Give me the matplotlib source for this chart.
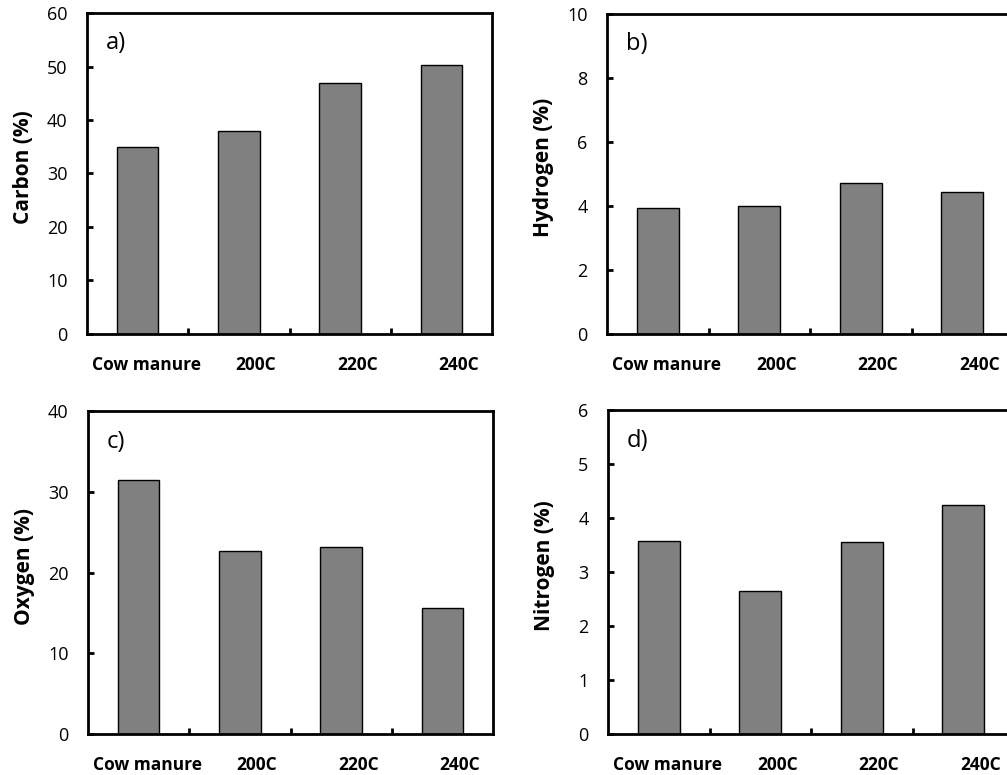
import matplotlib
matplotlib.use("Agg")
import matplotlib.pyplot as plt
import numpy as np

plt.rcParams['font.family'] = ['Open Sans', 'DejaVu Sans']

samples = ["Cow manure", "200C", "220C", "240C"]
carbon = [35.0, 38.0, 47.0, 50.3]
hydrogen = [3.95, 4.0, 4.72, 4.43]
oxygen = [31.4, 22.7, 23.2, 15.6]
nitrogen = [3.58, 2.64, 3.56, 4.24]

panels = [
    ("a)", "Carbon (%)", carbon, 60, 10),
    ("b)", "Hydrogen (%)", hydrogen, 10, 2),
    ("c)", "Oxygen (%)", oxygen, 40, 10),
    ("d)", "Nitrogen (%)", nitrogen, 6, 1),
]
# axes boxes in pixels: left, top, right, bottom
boxes = [(87, 13, 492, 334), (607, 14, 1013, 334),
         (88, 411, 493, 734), (608, 410, 1014, 734)]
label_shift = [0.09, 0.17, 0.17, 0.17]

W, H = 1007, 775
fig = plt.figure(figsize=(W / 100, H / 100), dpi=100)

for (tag, ylab, vals, ymax, ystep), (l, t, r, b) in zip(panels, boxes):
    ax = fig.add_axes([l / W, 1 - b / H, (r - l) / W, (b - t) / H])
    x = np.arange(len(samples))
    ax.bar(x, vals, width=0.41, color="#808080", edgecolor="black", linewidth=1.0, zorder=2)
    ax.set_xlim(-0.5, len(samples) - 0.5)
    ax.set_ylim(0, ymax)
    ax.set_yticks(np.arange(0, ymax + ystep / 2, ystep))
    ax.set_xticks(x + np.array(label_shift))
    ax.set_xticklabels(samples, fontsize=12.5, fontweight="bold")
    ax.set_xticks(x[:-1] + 0.5, minor=True)
    ax.tick_params(axis="x", which="major", length=0, pad=16)
    ax.tick_params(axis="x", which="minor", direction="in", length=4, width=2)
    ax.tick_params(axis="y", direction="in", length=4, width=2, labelsize=13, pad=14)
    for s in ax.spines.values():
        s.set_linewidth(2)
    ax.set_ylabel(ylab, fontsize=15, fontweight="bold")
    ax.yaxis.set_label_coords(-53 / (r - l), 0.52)
    ax.text(0.047, 0.905, tag, transform=ax.transAxes, fontsize=17, va="center", ha="left")

fig.savefig("out.png", dpi=100)
